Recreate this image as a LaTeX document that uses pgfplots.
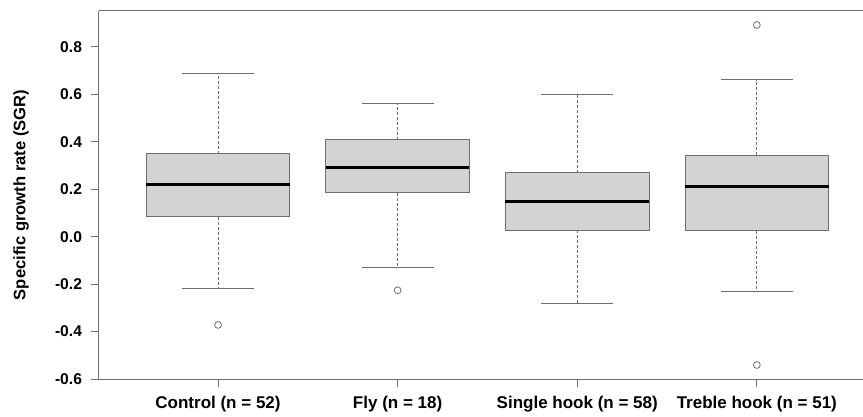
\documentclass[border=0pt]{standalone}
\usepackage{fontspec}
\setmainfont{Liberation Sans}
\usepackage{pgfplots}
\pgfplotsset{compat=1.18}
\definecolor{boxfill}{RGB}{211,211,211}
\definecolor{linegray}{RGB}{110,110,110}
\begin{document}
\begin{tikzpicture}
\begin{axis}[
  scale only axis,
  width=382pt, height=184pt,
  xmin=0.3374, xmax=4.591,
  ymin=-0.6, ymax=0.951,
  clip=false,
  unbounded coords=jump,
  separate axis lines,
  axis x line=box, axis y line=left,
  axis line style={linegray, line width=0.5pt, -},
  xtick={1,2,3,4},
  xticklabels={Control (n = 52), Fly (n = 18), Single hook (n = 58), Treble hook (n = 51)},
  ytick={-0.6,-0.4,-0.2,0,0.2,0.4,0.6,0.8},
  tick style={linegray, line width=0.5pt},
  tick align=outside,
  major tick length=4pt,
  xtick pos=bottom, ytick pos=left,
  yticklabel style={font=\bfseries\fontsize{7.8}{9}\selectfont, xshift=-1pt,
    /pgf/number format/assume math mode=true,
    /pgf/number format/fixed, /pgf/number format/fixed zerofill, /pgf/number format/precision=1},
  xticklabel style={font=\bfseries\fontsize{8.5}{10}\selectfont, yshift=-1pt},
]
% whiskers (dashed)
\addplot[linegray, line width=0.5pt, dash pattern=on 1.5pt off 1pt, mark=none] coordinates {
  (1,0.350) (1,0.688) (1,nan) (1,0.084) (1,-0.217) (1,nan)
  (2,0.409) (2,0.560) (2,nan) (2,0.185) (2,-0.130) (2,nan)
  (3,0.269) (3,0.599) (3,nan) (3,0.026) (3,-0.282) (3,nan)
  (4,0.343) (4,0.661) (4,nan) (4,0.024) (4,-0.230)
};
% whisker caps
\addplot[linegray, line width=0.5pt, mark=none] coordinates {
  (0.8,0.688) (1.2,0.688) (1,nan) (0.8,-0.217) (1.2,-0.217) (1,nan)
  (1.8,0.560) (2.2,0.560) (2,nan) (1.8,-0.130) (2.2,-0.130) (2,nan)
  (2.8,0.599) (3.2,0.599) (3,nan) (2.8,-0.282) (3.2,-0.282) (3,nan)
  (3.8,0.661) (4.2,0.661) (4,nan) (3.8,-0.230) (4.2,-0.230)
};
% boxes (lower quartile to upper quartile)
\addplot[draw=linegray, fill=boxfill, line width=0.5pt, mark=none] coordinates {(0.6,0.084) (1.4,0.084) (1.4,0.350) (0.6,0.350)} -- cycle;
\addplot[draw=linegray, fill=boxfill, line width=0.5pt, mark=none] coordinates {(1.6,0.185) (2.4,0.185) (2.4,0.409) (1.6,0.409)} -- cycle;
\addplot[draw=linegray, fill=boxfill, line width=0.5pt, mark=none] coordinates {(2.6,0.026) (3.4,0.026) (3.4,0.269) (2.6,0.269)} -- cycle;
\addplot[draw=linegray, fill=boxfill, line width=0.5pt, mark=none] coordinates {(3.6,0.024) (4.4,0.024) (4.4,0.343) (3.6,0.343)} -- cycle;
% medians
\addplot[black, line width=1.4pt, mark=none] coordinates {
  (0.6,0.220) (1.4,0.220) (1,nan)
  (1.6,0.290) (2.4,0.290) (2,nan)
  (2.6,0.148) (3.4,0.148) (3,nan)
  (3.6,0.211) (4.4,0.211)
};
% outliers
\addplot[only marks, mark=o, mark size=1.7pt, mark options={draw=linegray, line width=0.4pt}] coordinates {
  (1,-0.372) (2,-0.226) (4,0.892) (4,-0.541)
};
\node[rotate=90, font=\bfseries\fontsize{8.3}{10}\selectfont] at ([xshift=-39pt]rel axis cs:0,0.5) {Specific growth rate (SGR)};
\end{axis}
\pgfresetboundingbox
\path ([xshift=-49.5pt, yshift=-18.5pt]current axis.south west) rectangle ([yshift=5.5pt]current axis.north east);
\end{tikzpicture}
\end{document}
